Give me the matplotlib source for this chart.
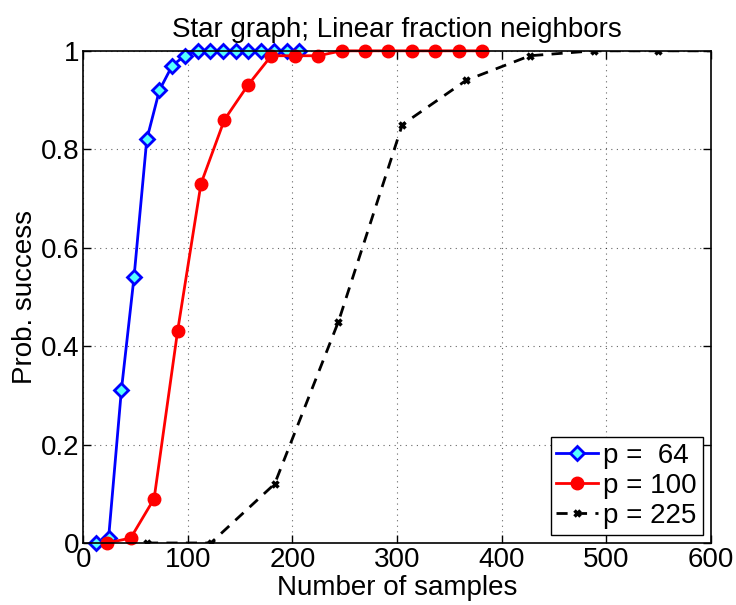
import numpy as np
import matplotlib
matplotlib.use("Agg")
import matplotlib.pyplot as plt

plt.rcParams['font.family'] = ['Liberation Sans', 'DejaVu Sans']

# p = 64
x64 = [12.2, 24.3, 36.5, 48.6, 60.8, 72.9, 85.1, 97.2, 109.4, 121.5,
       133.7, 145.8, 158.0, 170.1, 182.3, 194.4, 206.6]
y64 = [0.0, 0.01, 0.31, 0.54, 0.82, 0.92, 0.97, 0.99, 1.0, 1.0,
       1.0, 1.0, 1.0, 1.0, 1.0, 1.0, 1.0]

# p = 100
x100 = [23.0, 45.4, 67.8, 90.2, 112.6, 135.0, 157.4, 179.8, 202.2, 224.6,
        247.0, 269.4, 291.8, 314.2, 336.6, 359.0, 381.4]
y100 = [0.0, 0.01, 0.09, 0.43, 0.73, 0.86, 0.93, 0.99, 0.99, 0.99,
        1.0, 1.0, 1.0, 1.0, 1.0, 1.0, 1.0]

# p = 225
x225 = [61.0, 122.0, 183.0, 244.0, 305.0, 366.0, 427.0, 488.0, 549.0, 610.0]
y225 = [0.0, 0.0, 0.12, 0.45, 0.85, 0.94, 0.99, 1.0, 1.0, 1.0]

labels = ["p =  64", "p = 100", "p = 225"]

fig = plt.figure(figsize=(7.36, 6.05), dpi=100)
ax = fig.add_axes([0.113, 0.1025, 0.853, 0.8135])

ax.plot(x64, y64, "-D", color="blue", lw=2, ms=7, mfc="#55ffff",
        mec="blue", mew=2, label=labels[0], clip_on=False)
ax.plot(x100, y100, "-o", color="red", lw=2, ms=9, mfc="red", mec="red",
        label=labels[1], clip_on=False)
ax.plot(x225, y225, "--x", color="black", lw=2, ms=5, mew=2.5,
        label=labels[2], dashes=(4, 3))

ax.set_xlim(0, 600)
ax.set_ylim(0, 1)
ax.set_xticks(np.arange(0, 601, 100))
ax.set_yticks([0, 0.2, 0.4, 0.6, 0.8, 1.0])
ax.set_yticklabels(["0", "0.2", "0.4", "0.6", "0.8", "1"])
ax.tick_params(direction="in", labelsize=20, length=6, top=True, right=True,
               width=1)
ax.tick_params(axis="x", pad=3)
ax.tick_params(axis="y", pad=3)
ax.grid(True, ls=(0, (1, 4)), color="black", lw=0.8, alpha=0.6)
for s in ax.spines.values():
    s.set_linewidth(1.2)

ax.set_xlabel("Number of samples", fontsize=20, labelpad=1)
ax.set_ylabel("Prob. success", fontsize=20, labelpad=2)
ax.set_title("Star graph; Linear fraction neighbors", fontsize=20, pad=10)

leg = ax.legend(loc="lower right", fontsize=20, fancybox=False,
                edgecolor="black", framealpha=1, handlelength=1.5,
                handletextpad=0.2, borderpad=0.2, labelspacing=0.15,
                borderaxespad=0.3)
leg.get_frame().set_linewidth(1.0)

fig.savefig("out.png", dpi=100)
